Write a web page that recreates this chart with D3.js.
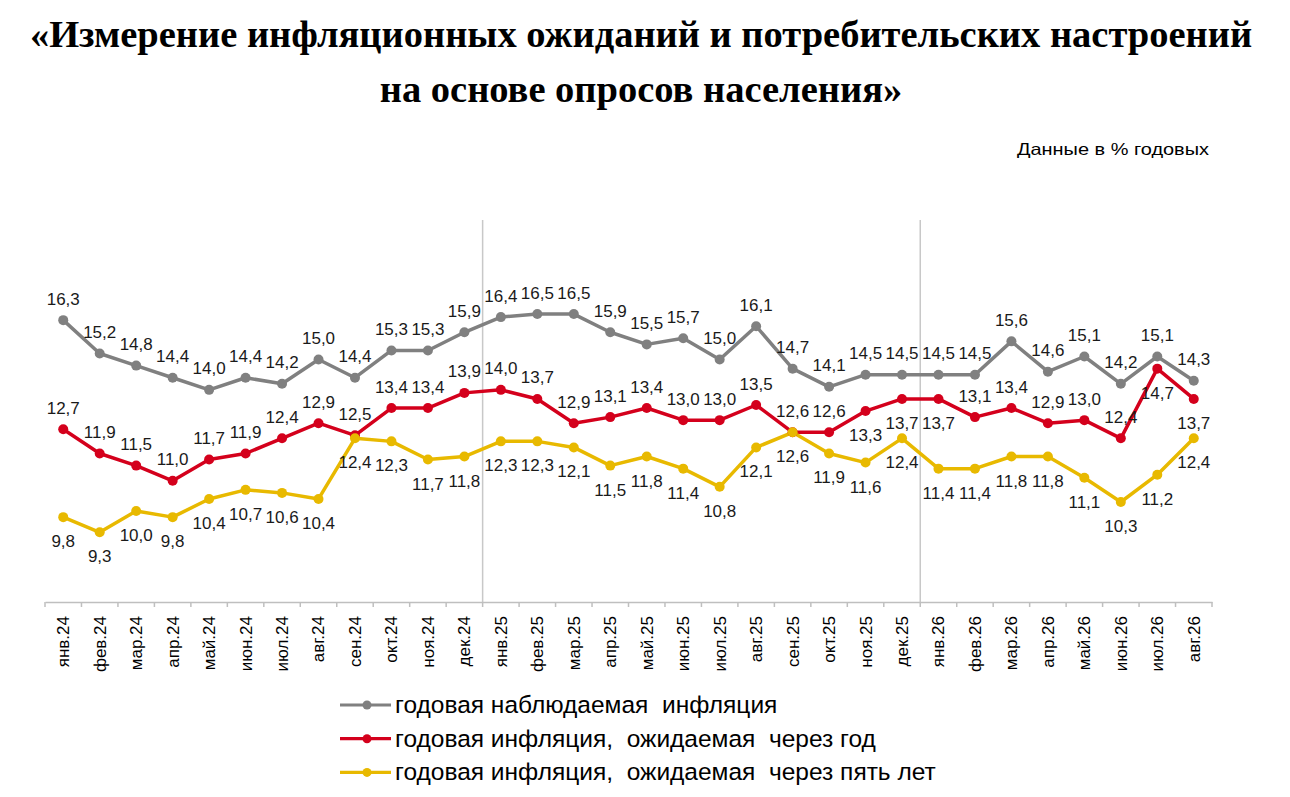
<!DOCTYPE html>
<html>
<head>
<meta charset="utf-8">
<script src="https://cdn.jsdelivr.net/npm/d3@7"></script>
<style>
  html, body { margin: 0; padding: 0; background: #fff; }
  svg { display: block; }
  text { font-family: Arial, "Liberation Sans", sans-serif; }
</style>
</head>
<body>
<svg id="chart" width="1290" height="797"></svg>
<script>
// ---- data ----
const categories = [
  "янв.24","фев.24","мар.24","апр.24","май.24","июн.24","июл.24","авг.24","сен.24","окт.24","ноя.24","дек.24",
  "янв.25","фев.25","мар.25","апр.25","май.25","июн.25","июл.25","авг.25","сен.25","окт.25","ноя.25","дек.25",
  "янв.26","фев.26","мар.26","апр.26","май.26","июн.26","июл.26","авг.26"
];
const observed = [16.3,15.2,14.8,14.4,14.0,14.4,14.2,15.0,14.4,15.3,15.3,15.9,
                  16.4,16.5,16.5,15.9,15.5,15.7,15.0,16.1,14.7,14.1,14.5,14.5,
                  14.5,14.5,15.6,14.6,15.1,14.2,15.1,14.3];
const expectedYear = [12.7,11.9,11.5,11.0,11.7,11.9,12.4,12.9,12.5,13.4,13.4,13.9,
                      14.0,13.7,12.9,13.1,13.4,13.0,13.0,13.5,12.6,12.6,13.3,13.7,
                      13.7,13.1,13.4,12.9,13.0,12.4,14.7,13.7];
const expectedFive = [9.8,9.3,10.0,9.8,10.4,10.7,10.6,10.4,12.4,12.3,11.7,11.8,
                      12.3,12.3,12.1,11.5,11.8,11.4,10.8,12.1,12.6,11.9,11.6,12.4,
                      11.4,11.4,11.8,11.8,11.1,10.3,11.2,12.4];
const seriesNames = [
  "годовая наблюдаемая  инфляция",
  "годовая инфляция,  ожидаемая  через год",
  "годовая инфляция,  ожидаемая  через пять лет"
];
const yearSeparators = ["янв.25", "янв.26"];
// label side for the one-year series (indices where label sits below the point)
const redBelow = [22, 23, 24, 30, 31];

const titleLines = ["«Измерение инфляционных ожиданий и потребительских настроений", "на основе опросов населения»"];
const subtitle = "Данные в % годовых";

// ---- setup ----
const svg = d3.select("#chart");
const colors = ["#808080", "#d4001c", "#e8b900"];
const series = [
  { name: seriesNames[0], values: observed, color: colors[0], side: () => "above" },
  { name: seriesNames[1], values: expectedYear, color: colors[1], side: i => redBelow.includes(i) ? "below" : "above" },
  { name: seriesNames[2], values: expectedFive, color: colors[2], side: () => "below" }
];

const x = d3.scaleBand().domain(categories).range([45, 1212]);
const y = d3.scaleLinear().domain([7, 20]).range([602, 208]);
const cx = c => x(c) + x.bandwidth() / 2;
const fmt = v => d3.format(".1f")(v).replace(".", ",");

// title
svg.append("g").selectAll("text").data(titleLines).join("text")
  .attr("x", 641).attr("y", (d, i) => 47 + i * 55)
  .attr("text-anchor", "middle")
  .style("font-family", "'Liberation Serif', 'Times New Roman', serif")
  .style("font-weight", "bold").style("font-size", "38.5px").attr("fill", "#000")
  .text(d => d);

svg.append("text").attr("x", 1017).attr("y", 155)
  .attr("textLength", 192).attr("lengthAdjust", "spacingAndGlyphs")
  .style("font-size", "16.5px").attr("fill", "#000").text(subtitle);

// separators
svg.append("g").selectAll("line").data(yearSeparators).join("line")
  .attr("x1", d => x(d)).attr("x2", d => x(d))
  .attr("y1", 220).attr("y2", y(7))
  .attr("stroke", "#c8c8c8").attr("stroke-width", 1.5);

// x axis
const axis = svg.append("g").attr("transform", `translate(0,${y(7)})`)
  .call(d3.axisBottom(x).tickSize(0).tickPadding(0));
axis.select(".domain").attr("stroke", "#bfbfbf").attr("stroke-width", 1.5);
axis.selectAll(".tick text")
  .attr("transform", "rotate(-90)")
  .attr("text-anchor", "end")
  .attr("x", -14).attr("y", 0).attr("dy", "0.35em")
  .style("font-size", "17px").attr("fill", "#000");
const boundaries = categories.map(c => x(c)).concat([x.range()[1]]);
axis.append("g").selectAll("line").data(boundaries).join("line")
  .attr("x1", d => d).attr("x2", d => d).attr("y1", 0).attr("y2", 5)
  .attr("stroke", "#bfbfbf").attr("stroke-width", 1.5);

// lines
const line = d3.line().x((d, i) => cx(categories[i])).y(d => y(d));
const gS = svg.append("g");
series.forEach(s => {
  gS.append("path").datum(s.values).attr("d", line)
    .attr("fill", "none").attr("stroke", s.color).attr("stroke-width", 3.5)
    .attr("stroke-linejoin", "round");
});
series.forEach(s => {
  gS.append("g").selectAll("circle").data(s.values).join("circle")
    .attr("cx", (d, i) => cx(categories[i])).attr("cy", d => y(d)).attr("r", 5)
    .attr("fill", s.color);
});
series.forEach(s => {
  gS.append("g").selectAll("text").data(s.values).join("text")
    .attr("x", (d, i) => cx(categories[i]))
    .attr("y", (d, i) => s.side(i) === "above" ? y(d) - 15.5 : y(d) + 30)
    .attr("text-anchor", "middle").style("font-size", "17px").attr("fill", "#1a1a1a")
    .text(d => fmt(d));
});

// legend
const lg = svg.append("g").selectAll("g").data(series).join("g")
  .attr("transform", (d, i) => `translate(0,${705 + i * 33.7})`);
lg.append("line").attr("x1", 340).attr("x2", 391).attr("y1", 0).attr("y2", 0)
  .attr("stroke", d => d.color).attr("stroke-width", 3.2);
lg.append("circle").attr("cx", 367).attr("cy", 0).attr("r", 4.5).attr("fill", d => d.color);
lg.append("text").attr("x", 395).attr("y", 8)
  .style("font-size", "24.5px").style("white-space", "pre").attr("xml:space", "preserve")
  .attr("fill", "#000").text(d => d.name);
</script>
</body>
</html>
